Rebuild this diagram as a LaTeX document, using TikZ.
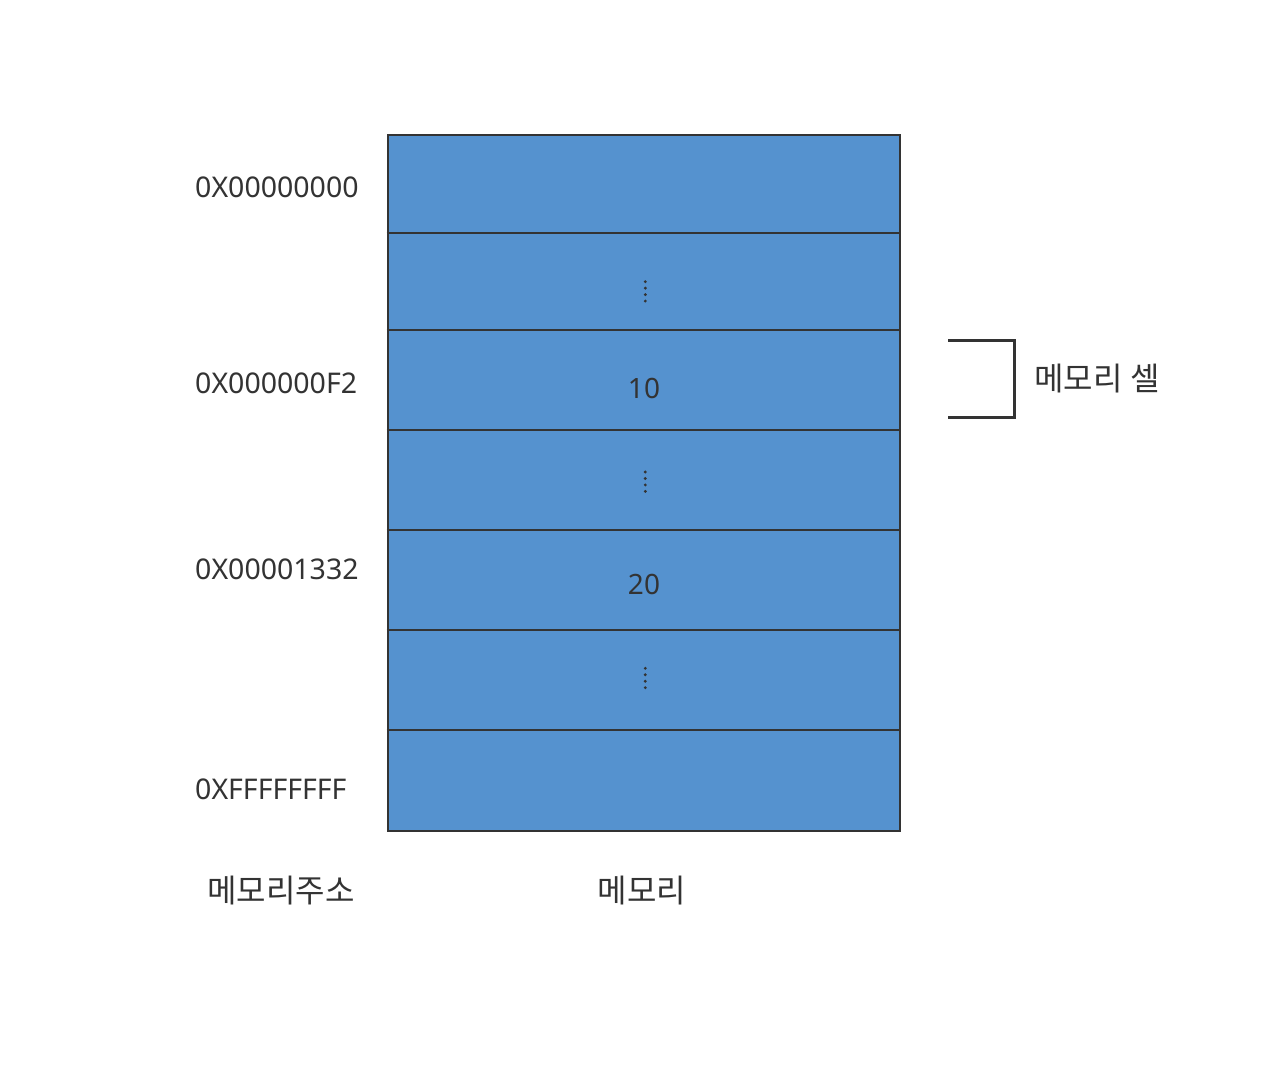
\documentclass[tikz,border=0pt]{standalone}
\usepackage{fontspec}
\setmainfont{Noto Sans}
\newfontfamily\kr{Noto Sans CJK KR}
\definecolor{cellblue}{RGB}{85,146,207}
\definecolor{ink}{RGB}{51,51,51}
\begin{document}
\begin{tikzpicture}[x=1pt,y=-1pt,
  addr/.style={anchor=base west,inner sep=0pt,text=ink,font=\fontsize{28.5}{34}\selectfont},
  val/.style={anchor=base,inner sep=0pt,text=ink,font=\fontsize{28}{34}\selectfont},
  krlabel/.style={anchor=center,inner sep=0pt,text=ink,font=\kr\fontsize{32}{38}\selectfont},
  sep/.style={draw=ink,line width=2pt},
  dotmark/.style={fill=ink,draw=none}]
\useasboundingbox[fill=white] (0,0) rectangle (1284,1080);
% memory block
\node[draw=ink,fill=cellblue,line width=2pt,minimum width=512pt,minimum height=696pt,inner sep=0pt,anchor=north west] (mem) at (386.5,133.5) {};
\foreach \yy/\nm in {233/a,330/b,430/c,530/d,630/e,730/f}{
  \coordinate (l\nm) at (386.5,\yy);
  \coordinate (r\nm) at (898.5,\yy);
  \draw[sep] (l\nm) -- (r\nm);
}
% vertical ellipses
\foreach \yb in {281.7,472,668.3}{
  \foreach \k in {0,1,2,3}{
    \fill[dotmark] (645.3,\yb+6.45*\k) circle (1.6pt);
  }
}
% values
\node[val] (v10) at (644,398) {10};
\node[val] (v20) at (644,594) {20};
% addresses
\node[addr] (a0) at (195,197) {0X00000000};
\node[addr] (a1) at (195,393) {0X000000F2};
\node[addr] (a2) at (195,579) {0X00001332};
\node[addr] (a3) at (195,799) {0XFFFFFFFF};
% bottom labels
\node[krlabel] (addrlbl) at (281,891) {메모리주소};
\node[krlabel] (memlbl) at (642,891) {메모리};
% bracket
\coordinate (b1) at (948,340);
\coordinate (b2) at (1014.5,340);
\coordinate (b3) at (1014.5,417);
\coordinate (b4) at (948,417);
\draw[draw=ink,line width=3pt] (b1) -- (b2) -- (b3) -- (b4);
\node[krlabel] (cell) at (1097,379) {메모리 셀};
\end{tikzpicture}
\end{document}
